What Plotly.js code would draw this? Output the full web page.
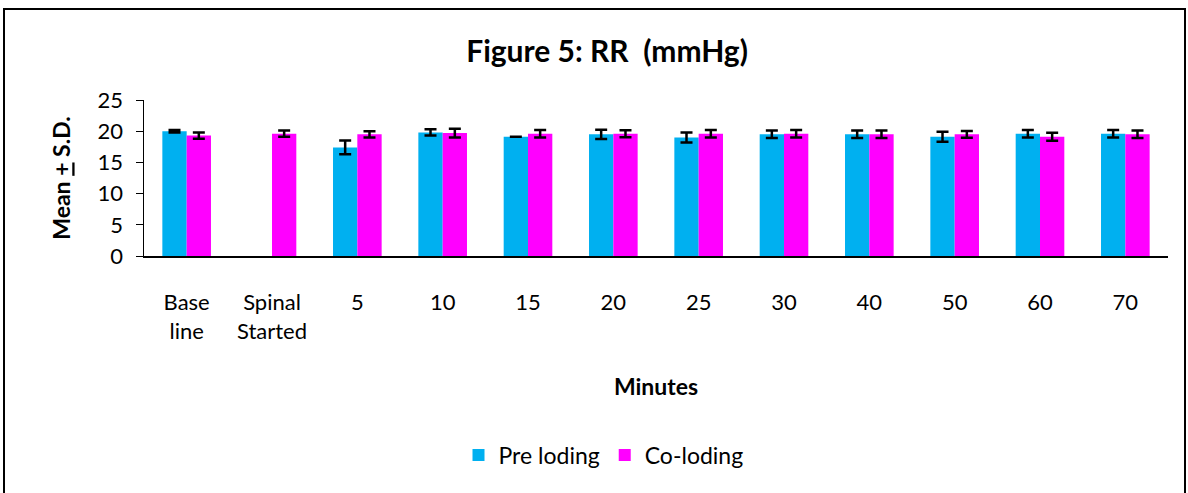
<!DOCTYPE html>
<html>
<head>
<meta charset="utf-8">
<script src="https://cdn.plot.ly/plotly-3.0.1.min.js"></script>
<style>
html,body{margin:0;padding:0;background:#fff;}
#wrap{position:relative;width:1188px;height:493px;overflow:hidden;}
#chart{position:absolute;left:0;top:0;width:1188px;height:493px;}
#frame{position:absolute;left:3px;top:8px;width:1179px;height:520px;border:2px solid #000;pointer-events:none;}
</style>
</head>
<body>
<div id="wrap"><div id="chart"></div><div id="frame"></div></div>
<script>
var categories = ["Base<br>line", "Spinal<br>Started", "5", "10", "15", "20", "25", "30", "40", "50", "60", "70"];
var preLoding = [20.0, null, 17.4, 19.8, 19.1, 19.5, 19.0, 19.5, 19.5, 19.1, 19.6, 19.6];
var preLodingSD = [0.2, null, 1.1, 0.5, 0, 0.75, 0.8, 0.6, 0.6, 0.8, 0.6, 0.6];
var coLoding = [19.3, 19.6, 19.5, 19.7, 19.6, 19.6, 19.6, 19.6, 19.5, 19.5, 19.1, 19.5];
var coLodingSD = [0.5, 0.5, 0.5, 0.7, 0.6, 0.55, 0.6, 0.6, 0.6, 0.55, 0.65, 0.6];

var FONT = "Lato, 'Open Sans', sans-serif";
var errStyle = {type: "data", visible: true, color: "#000", thickness: 2.5, width: 6};

var traces = [
  {type: "bar", name: "Pre loding", x: categories, y: preLoding,
   marker: {color: "#00B0F0"},
   error_y: Object.assign({array: preLodingSD}, errStyle)},
  {type: "bar", name: "Co-loding", x: categories, y: coLoding,
   marker: {color: "#FF00FF"},
   error_y: Object.assign({array: coLodingSD}, errStyle)}
];

var layout = {
  width: 1188, height: 493,
  margin: {l: 144, r: 20, t: 100, b: 237},
  paper_bgcolor: "#fff", plot_bgcolor: "#fff",
  font: {family: FONT, size: 22, color: "#000"},
  barmode: "group", bargap: 0.43, bargroupgap: 0,
  showlegend: true,
  title: {text: "<b>Figure 5: RR  (mmHg)</b>", font: {family: FONT, size: 30, color: "#000"},
          x: 0.511, xref: "container", xanchor: "center", y: 0.895, yref: "container", yanchor: "middle"},
  xaxis: {type: "category", showline: true, linecolor: "#000", linewidth: 2,
          ticks: "", showgrid: false, zeroline: false,
          tickfont: {family: FONT, size: 22, color: "#000"},
          ticklabelstandoff: 26,
          title: {text: "<b>Minutes</b>", font: {family: FONT, size: 23, color: "#000"}, standoff: 36}},
  yaxis: {range: [0, 25], dtick: 5, showline: true, linecolor: "#000", linewidth: 1.5,
          ticks: "outside", ticklen: 7, tickcolor: "#000", showgrid: false, zeroline: false,
          tickfont: {family: FONT, size: 22, color: "#000"},
          ticklabelstandoff: 8,
          title: {text: "<b>Mean <u>+</u> S.D.</b>", font: {family: FONT, size: 23, color: "#000"}, standoff: 20}},
  legend: {orientation: "h", x: 0.508, xref: "container", xanchor: "center",
           y: 0.077, yref: "container", yanchor: "middle",
           font: {family: FONT, size: 23, color: "#000"},
           itemwidth: 30, traceorder: "normal"}
};

Plotly.newPlot("chart", traces, layout, {displayModeBar: false, staticPlot: true});
</script>
</body>
</html>
